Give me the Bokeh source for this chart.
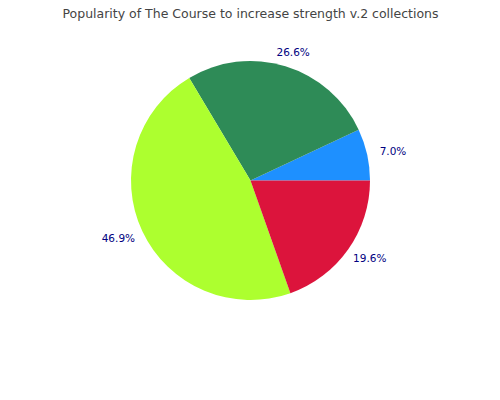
import math
from bokeh.plotting import figure
from bokeh.models import Range1d, ColumnDataSource
from bokeh.core.properties import value
from bokeh.embed import file_html
from bokeh.resources import INLINE

title = "Popularity of The Course to increase strength v.2 collections"
categories = ["A", "B", "C", "D"]
shares = [7.0, 26.6, 46.9, 19.6]
labels = ["7.0%", "26.6%", "46.9%", "19.6%"]
colors = ["#1E90FF", "#2E8B57", "#ADFF2F", "#DC143C"]

W, H = 484, 384
cx, cy = 250, H - 180
R = 119.5
LRX, LRY = 146, 134

total = sum(shares)
starts, ends, lx, ly = [], [], [], []
acc = 0.0
for s in shares:
    a0 = 2 * math.pi * acc / total
    acc += s
    a1 = 2 * math.pi * acc / total
    starts.append(a0)
    ends.append(a1)
    m = (a0 + a1) / 2
    lx.append(cx + LRX * math.cos(m))
    ly.append(cy + LRY * math.sin(m))

src = ColumnDataSource(dict(start=starts, end=ends, color=colors,
                            lx=lx, ly=ly, label=labels))

p = figure(width=W, height=H, output_backend="svg", toolbar_location=None,
           x_range=Range1d(0, W), y_range=Range1d(0, H),
           x_axis_type=None, y_axis_type=None, min_border=0)
p.outline_line_color = None
p.grid.visible = False
p.background_fill_color = "white"
p.border_fill_color = "white"

p.wedge(x=cx, y=cy, radius=R, start_angle="start", end_angle="end",
        fill_color="color", line_color=None, source=src)

p.text(x="lx", y="ly", text="label", source=src, text_color="#000080",
       text_font=value("DejaVu Sans"), text_font_size="10.5px",
       text_align="center", text_baseline="middle")

p.text(x=[250], y=[H - 13], text=[title], text_color="#444444",
       text_font=value("DejaVu Sans"), text_font_size="12.5px",
       text_align="center", text_baseline="middle")

open("out.html", "w").write(file_html(p, INLINE))
